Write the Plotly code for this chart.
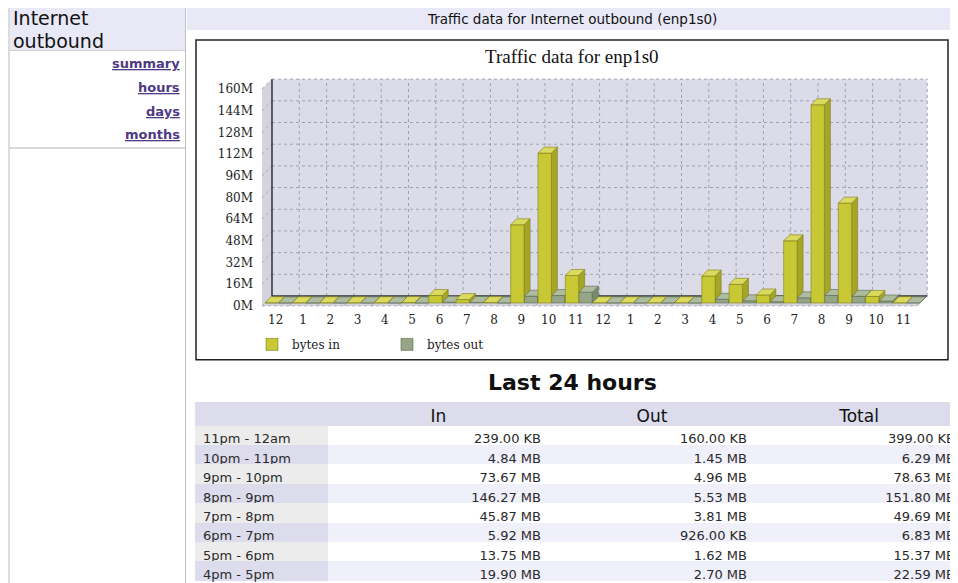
import plotly.graph_objects as go

W, H = 958, 583
OFF = 8  # page body margin of the html page

# ---------------- data ----------------
hour_labels = ["12", "1", "2", "3", "4", "5", "6", "7", "8", "9", "10", "11",
               "12", "1", "2", "3", "4", "5", "6", "7", "8", "9", "10", "11"]
bytes_in_m = [0.2, 0.2, 0.2, 0.2, 0.2, 0.3, 5.5, 2.5, 0.3, 57.7, 110.6, 20.3,
              0.2, 0.2, 0.2, 0.2, 19.90, 13.75, 5.92, 45.87, 146.27, 73.67, 4.84, 0.24]
bytes_out_m = [0.1, 0.1, 0.1, 0.1, 0.1, 0.1, 0.6, 0.4, 0.1, 5.0, 5.5, 8.0,
               0.1, 0.1, 0.1, 0.1, 2.70, 1.62, 0.93, 3.81, 5.53, 4.96, 1.45, 0.16]
y_tick_values = [0, 16, 32, 48, 64, 80, 96, 112, 128, 144, 160]
y_tick_labels = ["0M", "16M", "32M", "48M", "64M", "80M", "96M", "112M", "128M", "144M", "160M"]

table_periods = ["11pm - 12am", "10pm - 11pm", "9pm - 10pm", "8pm - 9pm",
                 "7pm - 8pm", "6pm - 7pm", "5pm - 6pm", "4pm - 5pm"]
table_in = ["239.00 KB", "4.84 MB", "73.67 MB", "146.27 MB", "45.87 MB", "5.92 MB", "13.75 MB", "19.90 MB"]
table_out = ["160.00 KB", "1.45 MB", "4.96 MB", "5.53 MB", "3.81 MB", "926.00 KB", "1.62 MB", "2.70 MB"]
table_total = ["399.00 KB", "6.29 MB", "78.63 MB", "151.80 MB", "49.69 MB", "6.83 MB", "15.37 MB", "22.59 MB"]

# ---------------- geometry (window pixels) ----------------
SLOT_PX = 27.3
PX_PER_M = 1.36
X0_PX = 262.0
Y0_PX = 307.0
DOM_L, DOM_R, DOM_T, DOM_B = 257, 935, 70, 312
WALL_D = 10.0
BAR_FRONT_D = 3.0
BAR_D = 6.0
BAR_W = 0.49

def cx(dpx):
    return dpx / SLOT_PX

def cy(dpx):
    return dpx / PX_PER_M

def px(x):
    return (x - OFF) / W

def py(y):
    return 1 - (y - OFF) / H

n = len(hour_labels)
ymax = y_tick_values[-1]
wdx, wdy = cx(WALL_D), cy(WALL_D)
bfx, bfy = cx(BAR_FRONT_D), cy(BAR_FRONT_D)
sdx, sdy = cx(BAR_D), cy(BAR_D)

xr = [(DOM_L - X0_PX) / SLOT_PX, (DOM_R - X0_PX) / SLOT_PX]
yr = [(Y0_PX - DOM_B) / PX_PER_M, (Y0_PX - DOM_T) / PX_PER_M]

IN_FRONT, IN_SIDE, IN_TOP, IN_EDGE = "#c8c834", "#a6a626", "#dada5e", "#7c7c1c"
OUT_FRONT, OUT_SIDE, OUT_TOP, OUT_EDGE = "#95a586", "#7a8a6e", "#adbb9f", "#5c6a52"

def faces(values, off):
    side_x, side_y, top_x, top_y = [], [], [], []
    for i, v in enumerate(values):
        xl = i + off
        xrr = xl + BAR_W
        b = bfy
        t = bfy + v
        side_x += [xrr, xrr + sdx, xrr + sdx, xrr, xrr, None]
        side_y += [b, b + sdy, t + sdy, t, b, None]
        top_x += [xl, xl + sdx, xrr + sdx, xrr, xl, None]
        top_y += [t, t + sdy, t + sdy, t, t, None]
    return side_x, side_y, top_x, top_y

in_off = bfx
out_off = 0.5 + bfx
isx, isy, itx, ity = faces(bytes_in_m, in_off)
osx, osy, otx, oty = faces(bytes_out_m, out_off)

fig = go.Figure()
fig.add_trace(go.Scatter(x=isx, y=isy, mode="lines", fill="toself", fillcolor=IN_SIDE,
                         line=dict(color=IN_EDGE, width=0.6), hoverinfo="skip",
                         showlegend=False, xaxis="x", yaxis="y"))
fig.add_trace(go.Bar(x=list(range(n)), y=bytes_in_m, base=bfy, offset=in_off, width=BAR_W,
                     name="bytes in", marker=dict(color=IN_FRONT, line=dict(color=IN_EDGE, width=0.6)),
                     xaxis="x3", yaxis="y3"))
fig.add_trace(go.Scatter(x=itx, y=ity, mode="lines", fill="toself", fillcolor=IN_TOP,
                         line=dict(color=IN_EDGE, width=0.6), hoverinfo="skip",
                         showlegend=False, xaxis="x3", yaxis="y3"))
fig.add_trace(go.Bar(x=list(range(n)), y=bytes_out_m, base=bfy, offset=out_off, width=BAR_W,
                     name="bytes out", marker=dict(color=OUT_FRONT, line=dict(color=OUT_EDGE, width=0.6)),
                     xaxis="x2", yaxis="y2"))
fig.add_trace(go.Scatter(x=osx, y=osy, mode="lines", fill="toself", fillcolor=OUT_SIDE,
                         line=dict(color=OUT_EDGE, width=0.6), hoverinfo="skip",
                         showlegend=False, xaxis="x2", yaxis="y2"))
fig.add_trace(go.Scatter(x=otx, y=oty, mode="lines", fill="toself", fillcolor=OUT_TOP,
                         line=dict(color=OUT_EDGE, width=0.6), hoverinfo="skip",
                         showlegend=False, xaxis="x2", yaxis="y2"))

# table
col_edges = [195, 328, 549, 755, 963]
fig.add_trace(go.Table(
    domain=dict(x=[px(col_edges[0]), px(col_edges[-1])], y=[0, py(403)]),
    columnwidth=[col_edges[k + 1] - col_edges[k] for k in range(4)],
    header=dict(values=["", "In", "Out", "Total"], height=24, fill_color="#dcdcec",
                line=dict(color="rgba(0,0,0,0)", width=0),
                font=dict(family="DejaVu Sans", size=17, color="#111"), align="center"),
    cells=dict(values=[table_periods, table_in, table_out, table_total], height=19.4,
               fill_color=[["#ececec" if k % 2 == 0 else "#dcdcec" for k in range(len(table_periods))]] +
                          [["#ffffff" if k % 2 == 0 else "#f0f0fa" for k in range(len(table_periods))]] * 3,
               line=dict(color="rgba(0,0,0,0)", width=0),
               font=dict(family="DejaVu Sans", size=13, color="#2a2a2a"),
               align=["left", "right", "right", "right"]),
))

shapes = []

def prect(x0, y0, x1, y1, fill, line=None, lw=0, layer="below"):
    shapes.append(dict(type="rect", xref="paper", yref="paper", x0=px(x0), x1=px(x1), y0=py(y1), y1=py(y0),
                       fillcolor=fill, line=dict(color=line or "rgba(0,0,0,0)", width=lw), layer=layer))

def pline(x0, y0, x1, y1, color, lw=1):
    shapes.append(dict(type="line", xref="paper", yref="paper", x0=px(x0), x1=px(x1), y0=py(y0), y1=py(y1),
                       line=dict(color=color, width=lw), layer="below"))

prect(10, 8, 185, 50, "#e8e8f6")
prect(187, 8, 966, 30, "#e8e8f6")
pline(10, 7.5, 966, 7.5, "#c8c8d0", 1)
pline(10, 50.5, 185, 50.5, "#c8c8d0", 1)
pline(9, 8, 9, 591, "#dcdcdc", 2)
pline(185.5, 8, 185.5, 591, "#c0c0c0", 1)
pline(10, 148.5, 185, 148.5, "#b0b0b0", 1)
prect(196, 40, 948, 361, "#ffffff", "#222222", 1.5)

def dpoly(pts, fill, lw=0, color=None):
    path = "M" + " L".join(f"{a},{b}" for a, b in pts) + " Z"
    shapes.append(dict(type="path", xref="x", yref="y", path=path, fillcolor=fill,
                       line=dict(color=color or "rgba(0,0,0,0)", width=lw), layer="below"))

def dline(x0, y0, x1, y1, color, lw=1, dash="solid"):
    shapes.append(dict(type="line", xref="x", yref="y", x0=x0, y0=y0, x1=x1, y1=y1,
                       line=dict(color=color, width=lw, dash=dash), layer="below"))

dpoly([(wdx, wdy), (n + wdx, wdy), (n + wdx, ymax + wdy), (wdx, ymax + wdy)], "#dcdce8")
dpoly([(0, 0), (wdx, wdy), (wdx, ymax + wdy), (0, ymax)], "#d4d4de")
dpoly([(0, 0), (n, 0), (n + wdx, wdy), (wdx, wdy)], "#d4d4de")
for v in y_tick_values[1:]:
    dline(wdx, v + wdy, n + wdx, v + wdy, "#a0a0b0", 1, "dot")
for v in y_tick_values:
    dline(0, v, wdx, v + wdy, "#a8a8b6", 1, "dot")
for k in range(1, n + 1):
    dline(k + wdx, wdy, k + wdx, ymax + wdy, "#a0a0b0", 1, "dot")
for k in range(0, n + 1):
    dline(k, 0, k + wdx, wdy, "#a8a8b6", 1, "dot")
dline(0, 0, n, 0, "#b8b8c4", 1, "dot")
dline(wdx, wdy, wdx, ymax + wdy, "#1a1a1a", 1.3)
dline(wdx, wdy, n + wdx, wdy, "#333333", 1.3)

annotations = [
    dict(text="Internet", x=px(11), y=py(18), xanchor="left", yanchor="middle",
         font=dict(family="DejaVu Sans", size=19, color="#111")),
    dict(text="outbound", x=px(11), y=py(41), xanchor="left", yanchor="middle",
         font=dict(family="DejaVu Sans", size=19, color="#111")),
    dict(text="Traffic data for Internet outbound (enp1s0)", x=px(572), y=py(19), xanchor="center",
         yanchor="middle", font=dict(family="DejaVu Sans", size=13.5, color="#111")),
    dict(text="Traffic data for enp1s0", x=px(572), y=py(57), xanchor="center", yanchor="middle",
         font=dict(family="Liberation Serif", size=19, color="#111")),
    dict(text="<b>Last 24 hours</b>", x=px(572), y=py(384), xanchor="center", yanchor="middle",
         font=dict(family="DejaVu Sans", size=22, color="#111")),
]
for label, yy in [("summary", 64), ("hours", 88), ("days", 112), ("months", 135)]:
    annotations.append(dict(text=f"<b><u>{label}</u></b>", x=px(182), y=py(yy), xanchor="right",
                            yanchor="middle", font=dict(family="DejaVu Sans", size=13, color="#4e3a84")))
for a in annotations:
    a.update(xref="paper", yref="paper", showarrow=False)

axis_common = dict(showgrid=False, zeroline=False, showline=False, fixedrange=True)
fig.update_layout(
    width=W, height=H, margin=dict(l=0, r=0, t=0, b=0),
    paper_bgcolor="white", plot_bgcolor="rgba(0,0,0,0)",
    barmode="overlay", shapes=shapes, annotations=annotations,
    xaxis=dict(domain=[px(DOM_L), px(DOM_R)], range=xr, tickmode="array",
               tickvals=[i + 0.5 for i in range(n)], ticktext=hour_labels, ticks="",
               tickfont=dict(family="DejaVu Serif", size=12, color="#222"), **axis_common),
    yaxis=dict(domain=[py(DOM_B), py(DOM_T)], range=yr, tickmode="array",
               tickvals=y_tick_values, ticktext=y_tick_labels, ticks="", ticklabelstandoff=3,
               tickfont=dict(family="DejaVu Serif", size=12, color="#222"), **axis_common),
    xaxis2=dict(overlaying="x", range=xr, visible=False, **axis_common),
    yaxis2=dict(overlaying="y", range=yr, visible=False, **axis_common),
    xaxis3=dict(overlaying="x", range=xr, visible=False, **axis_common),
    yaxis3=dict(overlaying="y", range=yr, visible=False, **axis_common),
    legend=dict(orientation="h", x=px(252), y=py(331), xanchor="left", yanchor="top",
                bgcolor="rgba(0,0,0,0)", entrywidth=90, entrywidthmode="pixels",
                font=dict(family="DejaVu Serif", size=12, color="#222"), traceorder="normal"),
    showlegend=True,
)

fig.write_html("out.html")
